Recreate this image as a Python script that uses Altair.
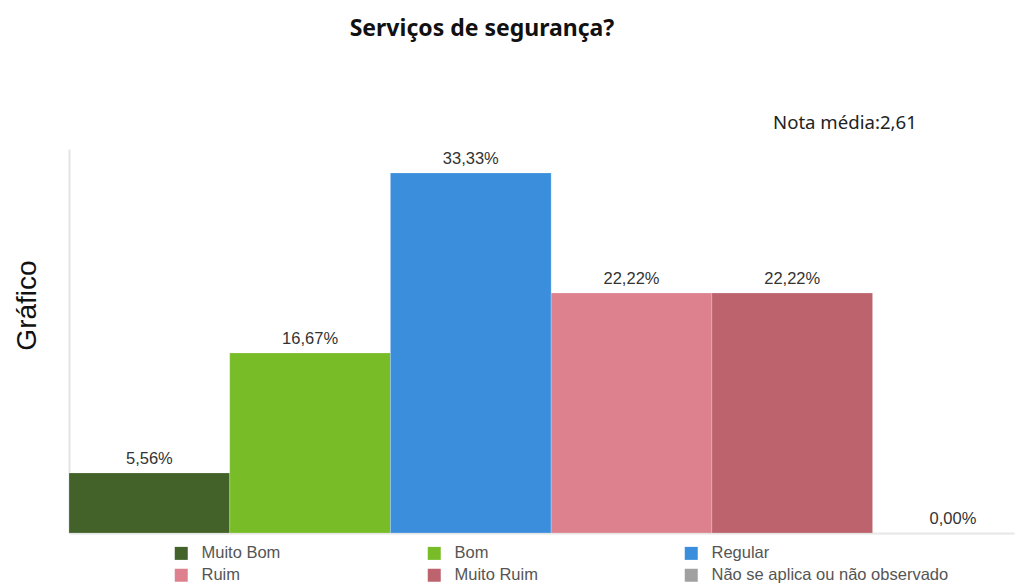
import altair as alt
import pandas as pd

# ---- data ----
categories = ["Muito Bom", "Bom", "Regular", "Ruim", "Muito Ruim", "Não se aplica ou não observado"]
values = [5.56, 16.67, 33.33, 22.22, 22.22, 0.00]
labels = ["5,56%", "16,67%", "33,33%", "22,22%", "22,22%", "0,00%"]
colors = ["#42622A", "#78BD28", "#3A8EDC", "#DD818F", "#BD636E", "#A0A0A0"]
chart_title = "Serviços de segurança?"
nota_text = "Nota média:2,61"
y_title = "Gráfico"

df = pd.DataFrame({
    "cat": categories,
    "val": values,
    "label": labels,
    "i0": list(range(len(categories))),
    "i1": [i + 1 for i in range(len(categories))],
    "mid": [i + 0.5 for i in range(len(categories))],
})

W, H = 945, 384
xscale = alt.Scale(domain=[0, 5.88], nice=False, zero=False)
yscale = alt.Scale(domain=[0, 35.55], nice=False)

bars = alt.Chart(df).mark_bar(stroke="#ffffff", strokeOpacity=0.2, strokeWidth=1).encode(
    x=alt.X("i0:Q", scale=xscale,
            axis=alt.Axis(title=None, labels=False, ticks=False, grid=False,
                          domainColor="#e3e3e3", domainWidth=2)),
    x2="i1:Q",
    y=alt.Y("val:Q", scale=yscale,
            axis=alt.Axis(title=y_title, labels=False, ticks=False, grid=False,
                          domainColor="#e3e3e3", domainWidth=2,
                          titleFont="Liberation Sans", titleFontSize=28,
                          titleFontWeight="normal", titleColor="#111111",
                          titleX=-42, titleY=156, titleBaseline="middle", titleAngle=270)),
    y2=alt.datum(0),
    color=alt.Color("cat:N", scale=alt.Scale(domain=categories, range=colors),
                    legend=alt.Legend(title=None, orient="none", legendX=104, legendY=396,
                                      columns=3, direction="horizontal",
                                      symbolType="square", symbolSize=169,
                                      symbolStrokeWidth=0, symbolOpacity=1,
                                      labelFont="Liberation Sans", labelFontSize=16.5,
                                      labelColor="#555555", labelOffset=12,
                                      columnPadding=145, rowPadding=5,
                                      gridAlign="each", labelLimit=400)),
)

text = alt.Chart(df).mark_text(baseline="bottom", dy=-6, font="Liberation Sans",
                               fontSize=16.5, color="#333333").encode(
    x=alt.X("mid:Q", scale=xscale),
    y=alt.Y("val:Q", scale=yscale),
    text="label:N",
)

title_mark = alt.Chart(pd.DataFrame({"t": [chart_title]})).mark_text(
    font="Noto Sans", fontSize=23, fontWeight="bold", color="#111111",
    align="center", baseline="middle").encode(
    x=alt.value(413), y=alt.value(-120), text="t:N")

nota_mark = alt.Chart(pd.DataFrame({"t": [nota_text]})).mark_text(
    font="Noto Sans", fontSize=18.6, color="#222222",
    align="left", baseline="middle").encode(
    x=alt.value(704), y=alt.value(-26), text="t:N")

chart = alt.layer(bars, text, title_mark, nota_mark).properties(
    width=W, height=H,
    autosize=alt.AutoSizeParams(type="none"),
    padding={"left": 61, "top": 141, "right": 4, "bottom": 51},
).configure(background="white").configure_view(stroke=None)

chart.save("out.html", embed_options={"renderer": "svg", "actions": False})
